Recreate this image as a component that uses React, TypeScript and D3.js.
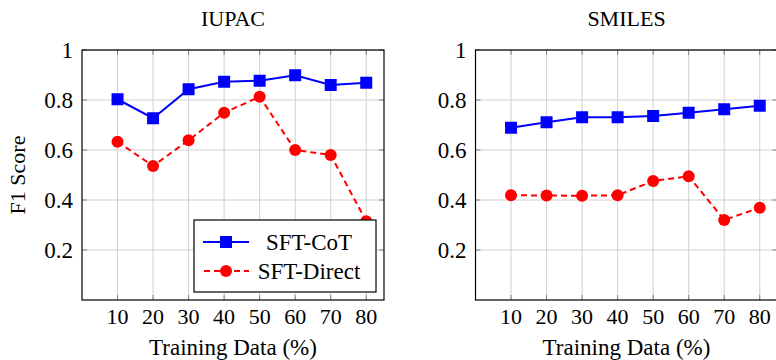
import React, { useEffect, useRef } from "react";
import * as d3 from "d3";

// training data percentages
const trainingPct = [10, 20, 30, 40, 50, 60, 70, 80];
// IUPAC
const iupacCot = [0.803, 0.727, 0.843, 0.873, 0.877, 0.899, 0.86, 0.869];
const iupacDirect = [0.633, 0.536, 0.639, 0.749, 0.813, 0.6, 0.58, 0.315];
// SMILES
const smilesCot = [0.689, 0.711, 0.731, 0.731, 0.736, 0.749, 0.763, 0.777];
const smilesDirect = [0.419, 0.418, 0.417, 0.419, 0.476, 0.495, 0.32, 0.369];
const yTicks = [0.2, 0.4, 0.6, 0.8, 1];
const yTickLabels = ["0.2", "0.4", "0.6", "0.8", "1"];
const seriesNames = ["SFT-CoT", "SFT-Direct"];

const W = 776;
const H = 360;
const FONT = "'Liberation Serif', 'Times New Roman', serif";

export default function App() {
  const ref = useRef<SVGSVGElement>(null);

  useEffect(() => {
    const svg = d3.select(ref.current);
    svg.selectAll("*").remove();

    const panels = [
      { title: "IUPAC", left: 82, cot: iupacCot, direct: iupacDirect, legend: true, ylabel: true },
      { title: "SMILES", left: 475.5, cot: smilesCot, direct: smilesDirect, legend: false, ylabel: false },
    ];
    const pw = 302;
    const top = 50;
    const bottom = 300;

    panels.forEach((p) => {
      const x = d3.scaleLinear().domain([0, 85]).range([p.left, p.left + pw]);
      const y = d3.scaleLinear().domain([0, 1]).range([bottom, top]);
      const g = svg.append("g");

      // grid
      g.selectAll(".vg")
        .data(trainingPct)
        .enter()
        .append("line")
        .attr("x1", (d) => x(d))
        .attr("x2", (d) => x(d))
        .attr("y1", top)
        .attr("y2", bottom)
        .attr("stroke", "#d0d0d0")
        .attr("stroke-width", 1);
      g.selectAll(".hg")
        .data(yTicks)
        .enter()
        .append("line")
        .attr("x1", p.left)
        .attr("x2", p.left + pw)
        .attr("y1", (d) => y(d))
        .attr("y2", (d) => y(d))
        .attr("stroke", "#d0d0d0")
        .attr("stroke-width", 1);

      // small inner ticks
      trainingPct.forEach((d) => {
        g.append("line").attr("x1", x(d)).attr("x2", x(d)).attr("y1", top).attr("y2", top + 5).attr("stroke", "#808080");
        g.append("line").attr("x1", x(d)).attr("x2", x(d)).attr("y1", bottom).attr("y2", bottom - 5).attr("stroke", "#808080");
      });
      yTicks.forEach((d) => {
        g.append("line").attr("x1", p.left).attr("x2", p.left + 5).attr("y1", y(d)).attr("y2", y(d)).attr("stroke", "#808080");
        g.append("line").attr("x1", p.left + pw).attr("x2", p.left + pw - 5).attr("y1", y(d)).attr("y2", y(d)).attr("stroke", "#808080");
      });

      // frame
      g.append("rect")
        .attr("x", p.left)
        .attr("y", top)
        .attr("width", pw)
        .attr("height", bottom - top)
        .attr("fill", "none")
        .attr("stroke", "#000")
        .attr("stroke-width", 1.2);

      // tick labels
      g.selectAll(".xl")
        .data(trainingPct)
        .enter()
        .append("text")
        .attr("x", (d) => x(d))
        .attr("y", 324)
        .attr("text-anchor", "middle")
        .attr("font-family", FONT)
        .attr("font-size", 22)
        .text((d) => d);
      g.selectAll(".yl")
        .data(yTicks)
        .enter()
        .append("text")
        .attr("x", p.left - 9)
        .attr("y", (d) => y(d))
        .attr("dy", "0.35em")
        .attr("text-anchor", "end")
        .attr("font-family", FONT)
        .attr("font-size", 23)
        .text((d, i) => yTickLabels[i]);

      // title & labels
      g.append("text")
        .attr("x", p.left + pw / 2)
        .attr("y", 26)
        .attr("text-anchor", "middle")
        .attr("font-family", FONT)
        .attr("font-size", 22)
        .text(p.title);
      g.append("text")
        .attr("x", p.left + pw / 2)
        .attr("y", 355)
        .attr("text-anchor", "middle")
        .attr("font-family", FONT)
        .attr("font-size", 23)
        .text("Training Data (%)");
      if (p.ylabel) {
        g.append("text")
          .attr("transform", `translate(25,${(top + bottom) / 2}) rotate(-90)`)
          .attr("text-anchor", "middle")
          .attr("font-family", FONT)
          .attr("font-size", 22)
          .text("F1 Score");
      }

      const line = d3
        .line<number>()
        .x((d, i) => x(trainingPct[i]))
        .y((d) => y(d));

      // SFT-Direct
      g.append("path")
        .datum(p.direct)
        .attr("d", line)
        .attr("fill", "none")
        .attr("stroke", "red")
        .attr("stroke-width", 2)
        .attr("stroke-dasharray", "6,4");
      g.selectAll(".dm")
        .data(p.direct)
        .enter()
        .append("circle")
        .attr("cx", (d, i) => x(trainingPct[i]))
        .attr("cy", (d) => y(d))
        .attr("r", 6)
        .attr("fill", "red");

      // SFT-CoT
      g.append("path")
        .datum(p.cot)
        .attr("d", line)
        .attr("fill", "none")
        .attr("stroke", "blue")
        .attr("stroke-width", 2);
      g.selectAll(".cm")
        .data(p.cot)
        .enter()
        .append("rect")
        .attr("x", (d, i) => x(trainingPct[i]) - 6)
        .attr("y", (d) => y(d) - 6)
        .attr("width", 12)
        .attr("height", 12)
        .attr("fill", "blue");

      if (p.legend) {
        const lg = g.append("g");
        lg.append("rect")
          .attr("x", 194)
          .attr("y", 220)
          .attr("width", 182)
          .attr("height", 72)
          .attr("fill", "white")
          .attr("stroke", "#000")
          .attr("stroke-width", 1.2);
        const rows = [242, 271];
        // CoT entry
        lg.append("line").attr("x1", 203).attr("x2", 249).attr("y1", rows[0]).attr("y2", rows[0]).attr("stroke", "blue").attr("stroke-width", 2);
        lg.append("rect").attr("x", 220).attr("y", rows[0] - 6).attr("width", 12).attr("height", 12).attr("fill", "blue");
        // Direct entry
        lg.append("line").attr("x1", 203).attr("x2", 249).attr("y1", rows[1]).attr("y2", rows[1]).attr("stroke", "red").attr("stroke-width", 2).attr("stroke-dasharray", "6,4").attr("stroke-dashoffset", -1);
        lg.append("circle").attr("cx", 226).attr("cy", rows[1]).attr("r", 6).attr("fill", "red");
        seriesNames.forEach((n, i) => {
          lg.append("text")
            .attr("x", 309)
            .attr("y", rows[i])
            .attr("dy", "0.35em")
            .attr("text-anchor", "middle")
            .attr("font-family", FONT)
            .attr("font-size", 23)
            .text(n);
        });
      }
    });
  }, []);

  return (
    <svg
      ref={ref}
      width={W}
      height={H}
      style={{ position: "absolute", left: 0, top: 0, background: "white" }}
    />
  );
}
